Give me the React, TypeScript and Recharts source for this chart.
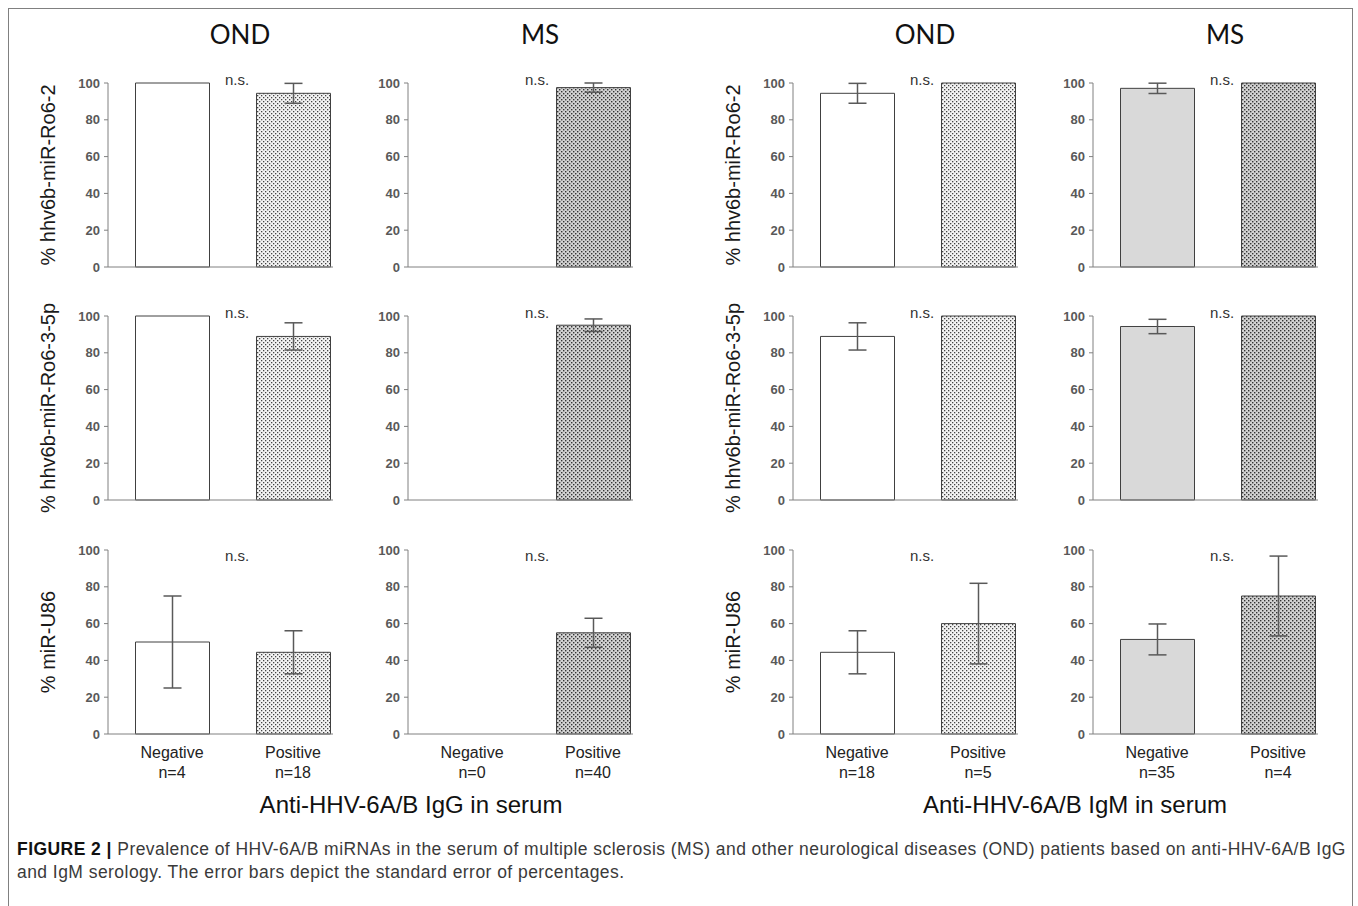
import { BarChart, Bar, XAxis, YAxis, ErrorBar, Cell } from 'recharts'

const arial = '"Liberation Sans", Arial, sans-serif'
const calibri = 'Lato, "Open Sans", sans-serif'

const categories = ['Negative', 'Positive']
const groupTitles = ['OND', 'MS']
const rowLabels = ['% hhv6b-miR-Ro6-2', '% hhv6b-miR-Ro6-3-5p', '% miR-U86']
const serumLabels = ['Anti-HHV-6A/B IgG in serum', 'Anti-HHV-6A/B IgM in serum']
const yTicks = [0, 20, 40, 60, 80, 100]
const sigText = 'n.s.'

// patients per category
const igGOndN = ['n=4', 'n=18']
const igGMsN = ['n=0', 'n=40']
const igMOndN = ['n=18', 'n=5']
const igMMsN = ['n=35', 'n=4']

// % detected [Negative, Positive], one pair per row: Ro6-2, Ro6-3-5p, U86
const igGOndPct = [[100, 94.4], [100, 88.9], [50, 44.4]]
const igGOndSe = [[0, 5.4], [0, 7.4], [25, 11.7]]
const igGMsPct = [[0, 97.5], [0, 95], [0, 55]]
const igGMsSe = [[0, 2.5], [0, 3.4], [0, 7.9]]
const igMOndPct = [[94.4, 100], [88.9, 100], [44.4, 60]]
const igMOndSe = [[5.4, 0], [7.4, 0], [11.7, 21.9]]
const igMMsPct = [[97.1, 100], [94.3, 100], [51.4, 75]]
const igMMsSe = [[2.8, 0], [3.9, 0], [8.4, 21.7]]

const YW = 45   // y axis width
const PW = 225  // plot width
const PH = 184  // plot height
const MT = 10   // top margin
const rowTops = [83, 316, 550]

const panels = [
  { pct: igGOndPct, se: igGOndSe, n: igGOndN, ms: false, axisX: 108 },
  { pct: igGMsPct, se: igGMsSe, n: igGMsN, ms: true, axisX: 408 },
  { pct: igMOndPct, se: igMOndSe, n: igMOndN, ms: false, axisX: 793 },
  { pct: igMMsPct, se: igMMsSe, n: igMMsN, ms: true, axisX: 1093 },
]

function CatTick(props: any) {
  const { x, y, payload, counts } = props
  const i = categories.indexOf(payload.value)
  return (
    <text x={x} y={y} textAnchor="middle" fontSize={16} fill="#222" fontFamily={arial}>
      <tspan x={x} dy={16}>{payload.value}</tspan>
      <tspan x={x} dy={20}>{counts[i]}</tspan>
    </text>
  )
}

function YTick(props: any) {
  const { x, y, payload } = props
  return (
    <text x={x - 2} y={y} dy={4.5} textAnchor="end" fontSize={13} fontWeight={700} fill="#595959" fontFamily={arial}>
      {payload.value}
    </text>
  )
}

function Panel({ p, row }: { p: typeof panels[number]; row: number }) {
  const last = row === 2
  const data = categories.map((c, i) => ({ cat: c, value: p.pct[row][i], se: p.se[row][i] }))
  const fills = [p.ms ? '#d9d9d9' : '#ffffff', p.ms ? 'url(#dotsDark)' : 'url(#dotsLight)']
  const xh = last ? 50 : 1
  const mb = last ? 0 : 12
  return (
    <div style={{ position: 'absolute', left: p.axisX - YW, top: rowTops[row] - MT }}>
      <BarChart width={YW + PW} height={MT + PH + xh + mb} data={data} margin={{ top: MT, right: 0, left: 0, bottom: mb }}>
        <XAxis
          dataKey="cat" interval={0} height={xh}
          padding={{ left: 3.5, right: -20.5 }}
          axisLine={{ stroke: '#808080' }} tickLine={false}
          tick={last ? (t: any) => <CatTick {...t} counts={p.n} /> : false}
        />
        <YAxis
          domain={[0, 100]} ticks={yTicks} interval={0} width={YW} tickSize={4}
          axisLine={{ stroke: '#808080' }} tickLine={{ stroke: '#808080' }}
          tick={(t: any) => <YTick {...t} />}
        />
        <Bar dataKey="value" barSize={74} stroke="#404040" strokeWidth={1} isAnimationActive={false}>
          {data.map((d, i) => <Cell key={d.cat} fill={fills[i]} />)}
          <ErrorBar dataKey="se" width={9} stroke="#595959" strokeWidth={1.5} />
        </Bar>
      </BarChart>
    </div>
  )
}

const centered = (x: number, y: number, extra: any = {}) => ({
  position: 'absolute' as const, left: x, top: y, transform: 'translate(-50%, -50%)',
  whiteSpace: 'nowrap' as const, ...extra,
})

export default function App() {
  return (
    <div style={{ position: 'relative', width: 1358, height: 906, background: '#fff', overflow: 'hidden' }}>
      <style>{'body{margin:0;overflow:hidden}'}</style>
      <svg width={0} height={0} style={{ position: 'absolute' }}>
        <defs>
          <pattern id="dotsLight" width={4} height={4} patternUnits="userSpaceOnUse">
            <rect width={4} height={4} fill="#f3f3f3" />
            <rect x={0} y={0} width={1.3} height={1.3} fill="#444" />
            <rect x={2} y={2} width={1.3} height={1.3} fill="#444" />
          </pattern>
          <pattern id="dotsDark" width={4} height={4} patternUnits="userSpaceOnUse">
            <rect width={4} height={4} fill="#d2d2d2" />
            <rect x={0} y={0} width={1.4} height={1.4} fill="#333" />
            <rect x={2} y={2} width={1.4} height={1.4} fill="#333" />
          </pattern>
        </defs>
      </svg>

      <div style={{ position: 'absolute', left: 8, top: 8, width: 1345, height: 910, border: '1.5px solid #808080', boxSizing: 'border-box' }} />

      {panels.map((p, pi) => (
        <div key={pi}>
          <div style={centered(p.axisX + 132, 34, { fontFamily: calibri, fontSize: 26, color: '#111' })}>
            {groupTitles[pi % 2]}
          </div>
          {rowTops.map((t, r) => (
            <div key={r}>
              <Panel p={p} row={r} />
              <div style={centered(p.axisX + 129, t + (r === 2 ? 5 : -4), { fontFamily: arial, fontSize: 15, color: '#333' })}>
                {sigText}
              </div>
              {pi % 2 === 0 && (
                <div style={centered(p.axisX - 60, t + PH / 2, { fontFamily: arial, fontSize: 20, color: '#1a1a1a', transform: 'translate(-50%, -50%) rotate(-90deg)' })}>
                  {rowLabels[r]}
                </div>
              )}
            </div>
          ))}
        </div>
      ))}

      <div style={centered(411, 805, { fontFamily: arial, fontSize: 24, color: '#111' })}>{serumLabels[0]}</div>
      <div style={centered(1075, 805, { fontFamily: arial, fontSize: 24, color: '#111' })}>{serumLabels[1]}</div>

      <div style={{ position: 'absolute', left: 17, top: 838, fontFamily: arial, fontSize: 17.5, letterSpacing: 0.45, lineHeight: '23px', color: '#3a3a3a', whiteSpace: 'nowrap' }}>
        <b style={{ color: '#111' }}>FIGURE 2 |</b> Prevalence of HHV-6A/B miRNAs in the serum of multiple sclerosis (MS) and other neurological diseases (OND) patients based on anti-HHV-6A/B IgG
        <br />
        and IgM serology. The error bars depict the standard error of percentages.
      </div>
    </div>
  )
}
